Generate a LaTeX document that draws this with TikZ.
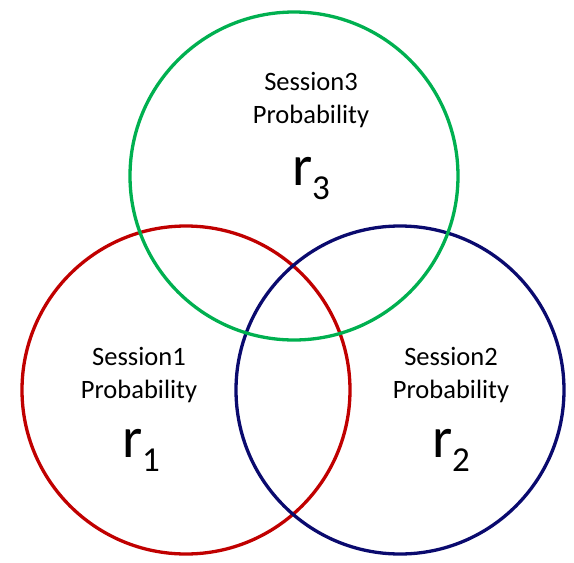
\documentclass[tikz,border=0pt]{standalone}
\usepackage{fontspec}
\setmainfont{Carlito}
\definecolor{ringred}{HTML}{C00000}
\definecolor{ringblue}{HTML}{0A0A6E}
\definecolor{ringgreen}{HTML}{00B050}
\begin{document}
\begin{tikzpicture}[x=1pt,y=-1pt,
  ring/.style={line width=3.3pt},
  lbl/.style={align=center, font=\fontsize{26.5}{32.5}\selectfont, inner sep=0pt, text=black},
  rv/.style={font=\fontsize{58}{58}\selectfont, inner sep=0pt, anchor=base, text=black}]
\useasboundingbox (0,0) rectangle (574,563);
\draw[ring, draw=ringred] (186,390) circle[radius=164];
\draw[ring, draw=ringblue] (400,390) circle[radius=164];
\draw[ring, draw=ringgreen] (294,176) circle[radius=164];
\node[lbl] (s3) at (311,100) {Session3\\Probability};
\node[lbl] (s1) at (139,375) {Session1\\Probability};
\node[lbl] (s2) at (451,375) {Session2\\Probability};
\node[rv] (r3) at (311,185) {r\raisebox{-14pt}{\fontsize{35}{35}\selectfont 3}};
\node[rv] (r1) at (141,457) {r\raisebox{-14pt}{\fontsize{35}{35}\selectfont 1}};
\node[rv] (r2) at (451,457) {r\raisebox{-14pt}{\fontsize{35}{35}\selectfont 2}};
\end{tikzpicture}
\end{document}
